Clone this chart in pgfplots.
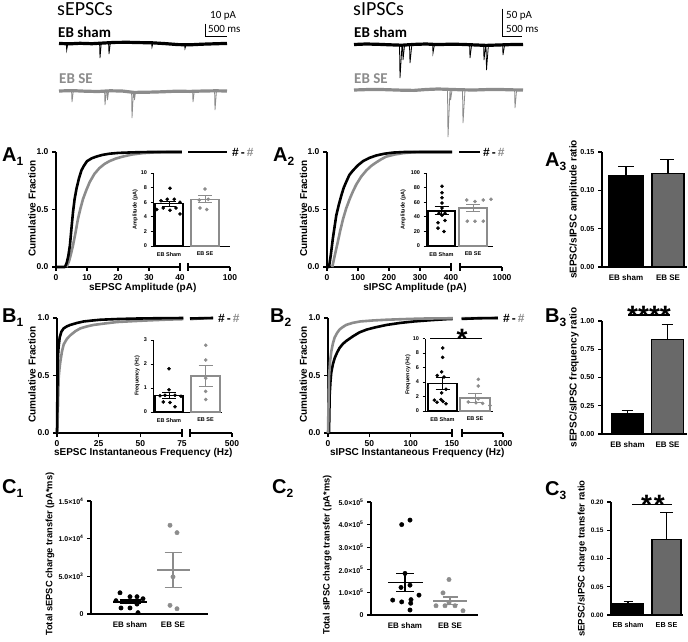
\documentclass[border=0pt]{standalone}
\usepackage{pgfplots}
\pgfplotsset{compat=1.18}
\usepackage{fontspec}
\setmainfont{Liberation Sans}
\newfontfamily\calib{Carlito}
\definecolor{segray}{RGB}{140,140,140}
\definecolor{bargray}{RGB}{105,105,105}
\newcommand{\fs}[1]{\fontsize{#1}{#1}\selectfont}
\newcommand{\plab}[2]{{\fs{20}\bfseries #1}{\fs{12}\bfseries\raisebox{-4pt}{#2}}}
\newcommand{\hh}{{\fs{12}\bfseries\#\,-\,\textcolor{segray}{\#}}}

\pgfplotsset{
  base/.style={scale only axis, clip=false, anchor=south west,
    axis lines*=left, axis line style={line width=1.1pt},
    every tick/.style={line width=1.1pt, black}, major tick length=4pt, tick align=outside,
    /pgf/number format/assume math mode=true,
    tick label style={font=\fs{8.5}\bfseries},
    label style={font=\fs{10}\bfseries}, unbounded coords=jump},
  cum/.style={base, height=115pt, ymin=0, ymax=1, ytick={0,0.5,1}, yticklabels={0.0,0.5,1.0},
    ylabel={Cumulative Fraction}, ylabel style={at={(axis description cs:-0.194,0.51)}, anchor=center}},
  seg/.style={base, height=115pt, ymin=0, ymax=1, axis y line=none, axis x line*=bottom},
  brk/.style={line width=1.1pt, black},
  inset/.style={base, ymin=0, axis line style={line width=0.8pt},
    every tick/.style={line width=0.8pt, black}, major tick length=2.5pt,
    tick label style={font=\fs{5.5}\bfseries}, label style={font=\fs{5.5}\bfseries},
    xtick style={draw=none}},
  ratio/.style={base, xtick style={draw=none}, tick label style={font=\fs{7.2}\bfseries},
    xticklabel style={font=\fs{8}\bfseries}, label style={font=\fs{10}\bfseries}},
  scat/.style={base, xtick style={draw=none}, scaled y ticks=false, tick label style={font=\fs{7}\bfseries},
    xticklabel style={font=\fs{8}\bfseries}, label style={font=\fs{9.3}\bfseries}},
  curve/.style={no marks, line width=2.6pt, line join=round},
  dot/.style={only marks, mark=*, mark size=1.6pt},
  sem/.style={line width=0.9pt},
}

\begin{document}
\begin{tikzpicture}
\useasboundingbox (0,-641pt) rectangle (688pt,0);

% ---------- traces, scale bars and panel letters (pixel frame) ----------
\begin{axis}[at={(0pt,-641pt)}, anchor=south west, scale only axis, width=688pt, height=641pt,
  xmin=0, xmax=688, ymin=-641, ymax=0, hide axis, clip=false, unbounded coords=jump]
% sEPSC sham
\addplot[black, line width=3.2pt, line join=round] coordinates {(59,-43.5) (70,-43.8) (80,-43.3) (92,-43.7) (104,-43) (115,-42.4) (128,-42.3) (140,-42.6) (152,-42.8) (165,-43.6) (178,-44.6) (190,-44.8) (202,-44.2) (214,-43.8) (227,-43.4)};
\addplot[black, line width=0.8pt] coordinates {(66.3,-44) (66.7,-50) (67.8,-44) (nan,nan) (99.6,-44) (100,-58) (101.2,-44) (nan,nan) (108.6,-44) (109,-54) (110.2,-44) (nan,nan) (151.6,-43) (152,-47) (153,-43) (nan,nan) (184.6,-45) (185,-48.5) (186,-45)};
% sEPSC SE
\addplot[segray, line width=3.2pt, line join=round] coordinates {(59,-91) (72,-90.6) (85,-91.2) (98,-91.5) (110,-90.8) (122,-91) (134,-92.4) (148,-92.2) (162,-91.8) (176,-91.2) (190,-91.4) (204,-91) (216,-90.8) (227,-91)};
\addplot[segray, line width=0.8pt] coordinates {(71.6,-92) (72,-102) (73.2,-92) (nan,nan) (104.6,-92) (105,-105) (106.2,-92) (nan,nan) (107.1,-92) (107.5,-100) (108.5,-92) (nan,nan) (131.6,-92) (132,-118) (133.4,-92) (nan,nan) (134.1,-92) (134.5,-100) (135.5,-92) (nan,nan) (192.6,-92) (193,-102) (194.2,-92) (nan,nan) (214.6,-92) (215,-110) (216.4,-92)};
% sIPSC sham
\addplot[black, line width=3.2pt, line join=round] coordinates {(354,-44.5) (366,-44) (378,-44.3) (390,-44.8) (402,-45.2) (414,-44.4) (426,-44) (438,-44.6) (450,-44.2) (462,-44.4) (474,-44.9) (486,-45.4) (498,-45) (510,-44.6) (523,-44.5)};
\addplot[black, line width=0.8pt] coordinates {(399.5,-45) (400,-78) (402,-45) (nan,nan) (402.6,-45) (403,-60) (404.6,-45) (nan,nan) (409.5,-45) (410,-63) (411.8,-45) (nan,nan) (432.6,-45) (433,-53) (434.4,-45) (nan,nan) (469.6,-45) (470,-58) (471.6,-45) (nan,nan) (483.6,-45) (484,-60) (485.6,-45) (nan,nan) (486,-45) (486.5,-70) (488.4,-45) (nan,nan) (502.6,-45) (503,-55) (504.6,-45)};
% sIPSC SE
\addplot[segray, line width=3.2pt, line join=round] coordinates {(354,-90) (366,-89.6) (378,-89.4) (390,-89.8) (402,-90.2) (414,-90.4) (426,-89.5) (438,-89) (450,-89.4) (462,-89.8) (474,-90) (486,-89.6) (498,-89.4) (510,-89.8) (523,-90)};
\addplot[segray, line width=0.8pt] coordinates {(447.5,-90) (448,-137) (450,-90) (nan,nan) (450.2,-90) (450.6,-100) (452,-90) (nan,nan) (462.5,-90) (463,-123) (465,-90) (nan,nan) (514.6,-90) (515,-108) (516.6,-90)};
% scale bars
\addplot[black, line width=0.7pt] coordinates {(205,-23.5) (205,-36) (227,-36)};
\addplot[black, line width=0.7pt] coordinates {(502,-8.5) (502,-36.7) (522,-36.7)};

\node[anchor=base west, inner sep=0, font=\calib\fs{20}] at (axis cs:57,-15) {sEPSCs};
\node[anchor=base west, inner sep=0, font=\calib\fs{20}] at (axis cs:353,-15) {sIPSCs};
\node[anchor=base west, inner sep=0, font=\calib\bfseries\fs{15}] at (axis cs:58,-37) {EB sham};
\node[anchor=base west, inner sep=0, font=\calib\bfseries\fs{15}] at (axis cs:354,-37) {EB sham};
\node[anchor=base west, inner sep=0, font=\calib\bfseries\fs{15}, text=segray] at (axis cs:59,-83) {EB SE};
\node[anchor=base west, inner sep=0, font=\calib\bfseries\fs{15}, text=segray] at (axis cs:354,-83) {EB SE};
\node[anchor=base west, inner sep=0, font=\calib\fs{11}] at (axis cs:210,-18) {10 pA};
\node[anchor=base west, inner sep=0, font=\calib\fs{11}] at (axis cs:208,-32) {500 ms};
\node[anchor=base west, inner sep=0, font=\calib\fs{11}] at (axis cs:506,-18) {50 pA};
\node[anchor=base west, inner sep=0, font=\calib\fs{11}] at (axis cs:506,-32) {500 ms};

\node[anchor=base west, inner sep=0] at (axis cs:2,-161) {\plab{A}{1}};
\node[anchor=base west, inner sep=0] at (axis cs:273,-161) {\plab{A}{2}};
\node[anchor=base west, inner sep=0] at (axis cs:545,-166) {\plab{A}{3}};
\node[anchor=base west, inner sep=0] at (axis cs:2,-322) {\plab{B}{1}};
\node[anchor=base west, inner sep=0] at (axis cs:270,-322) {\plab{B}{2}};
\node[anchor=base west, inner sep=0] at (axis cs:545,-322) {\plab{B}{3}};
\node[anchor=base west, inner sep=0] at (axis cs:2,-493) {\plab{C}{1}};
\node[anchor=base west, inner sep=0] at (axis cs:272,-493) {\plab{C}{2}};
\node[anchor=base west, inner sep=0] at (axis cs:545,-495) {\plab{C}{3}};
\end{axis}

% ---------- A1 ----------
\begin{axis}[cum, at={(56pt,-267pt)}, width=124pt, xmin=0, xmax=40,
  xtick={0,10,20,30,40}, xticklabels={0,10,20,30,40},
  xlabel={sEPSC Amplitude (pA)}, xlabel style={at={(axis description cs:0.70,-0.18)}, anchor=center}]
\addplot[curve, segray] coordinates {(3.4,0) (4.2,0.05) (4.8,0.11) (5.5,0.19) (6.3,0.30) (7.1,0.42) (7.9,0.51) (8.7,0.59) (9.8,0.67) (10.9,0.74) (12.4,0.81) (14,0.86) (15.6,0.895) (17.2,0.92) (19.3,0.943) (21.5,0.96) (24.5,0.978) (27.9,0.99) (32,0.997) (36,1) (40.6,1)};
\addplot[curve, black] coordinates {(0,0) (2.9,0) (3.5,0.04) (4.0,0.10) (4.5,0.19) (5.0,0.34) (5.5,0.48) (6.0,0.59) (6.6,0.68) (7.4,0.77) (8.2,0.84) (9.0,0.88) (10,0.92) (11.5,0.945) (13,0.96) (15,0.975) (17.2,0.985) (20,0.992) (24.7,0.997) (30,1) (40.6,1)};
\addplot[brk] coordinates {(40,0.035) (40,-0.035)};
\end{axis}
\begin{axis}[seg, at={(188pt,-267pt)}, width=42pt, xmin=40, xmax=100, xtick={100}, xticklabels={100}]
\addplot[curve, black] coordinates {(40,1) (95.7,1)};
\addplot[brk] coordinates {(40,0.035) (40,-0.035)};
\node[anchor=west, inner sep=0, xshift=5pt] at (axis cs:95.7,1) {\hh};
\end{axis}
\begin{axis}[inset, at={(153pt,-246pt)}, width=77pt, height=73pt, xmin=0, xmax=77, ymax=10,
  ytick={0,2,4,6,8,10}, yticklabels={0,2,4,6,8,10}, xtick={16,52}, xticklabels={EB Sham,EB SE},
  ylabel={Amplitude (pA)}, ylabel style={at={(axis description cs:-0.23,0.5)}, anchor=center}]
\addplot[ybar, bar width=28, fill=white, draw=black, line width=1.1pt] coordinates {(16,5.8)};
\addplot[ybar, bar width=28, fill=white, draw=segray, line width=1.1pt] coordinates {(52,6.4)};
\addplot[dot, black] coordinates {(17,7.9) (8,6.2) (14.3,6.4) (21.3,6.4) (27,6.0) (3.7,5.0) (10.3,5.2) (17,4.9) (23,5.2) (27,4.4)};
\addplot[dot, segray] coordinates {(52,7.8) (46.3,6.3) (55.3,6.4) (47,5.2) (53.7,5.0)};
\addplot[sem, black] coordinates {(16,5.45) (16,6.15) (nan,nan) (9,6.15) (23,6.15) (nan,nan) (9,5.45) (23,5.45)};
\addplot[sem, segray] coordinates {(52,5.9) (52,6.9) (nan,nan) (45,6.9) (59,6.9) (nan,nan) (45,5.9) (59,5.9)};
\end{axis}

% ---------- A2 ----------
\begin{axis}[cum, at={(327pt,-267pt)}, width=124pt, xmin=0, xmax=400,
  xtick={0,100,200,300,400}, xticklabels={0,100,200,300,400},
  xlabel={sIPSC Amplitude (pA)}, xlabel style={at={(axis description cs:0.71,-0.18)}, anchor=center},
  ylabel style={at={(axis description cs:-0.19,0.51)}}]
\addplot[curve, segray] coordinates {(17,0) (25,0.1) (35,0.22) (43,0.32) (52,0.42) (62,0.51) (73,0.59) (84,0.66) (95,0.72) (110,0.785) (127,0.84) (143,0.88) (159,0.91) (175,0.937) (191,0.96) (218,0.978) (245,0.99) (275,0.997) (300,1) (404,1)};
\addplot[curve, black] coordinates {(0,0) (6.5,0) (12,0.1) (19,0.25) (25,0.36) (30,0.45) (38,0.54) (46,0.62) (54,0.69) (62,0.74) (72,0.8) (84,0.84) (100,0.885) (116,0.92) (136,0.948) (159,0.97) (185,0.985) (213,0.995) (250,1) (404,1)};
\addplot[brk] coordinates {(400,0.035) (400,-0.035)};
\end{axis}
\begin{axis}[seg, at={(460pt,-267pt)}, width=42pt, xmin=400, xmax=1000, xtick={1000}, xticklabels={1000}]
\addplot[curve, black] coordinates {(390,1) (686,1)};
\addplot[brk] coordinates {(400,0.035) (400,-0.035)};
\node[anchor=west, inner sep=0, xshift=3pt] at (axis cs:686,1) {\hh};
\end{axis}
\begin{axis}[inset, at={(426pt,-246pt)}, width=67pt, height=73pt, xmin=0, xmax=67, ymax=100,
  ytick={0,20,40,60,80,100}, yticklabels={0,20,40,60,80,100}, xtick={15.5,47}, xticklabels={EB Sham,EB SE},
  ylabel={Amplitude (pA)}, ylabel style={at={(axis description cs:-0.34,0.5)}, anchor=center}]
\addplot[ybar, bar width=27, fill=white, draw=black, line width=1.1pt] coordinates {(15.5,48)};
\addplot[ybar, bar width=28, fill=white, draw=segray, line width=1.1pt] coordinates {(47,52)};
\addplot[dot, black] coordinates {(16,82) (16,73) (16,66) (16,59) (16,52) (13,45) (19,45) (16,42) (19,35) (12,32) (12,24.5) (18,20)};
\addplot[dot, segray] coordinates {(40.7,63) (49,61) (57.3,63) (65,64) (41.3,34) (49,34) (57.3,34)};
\addplot[sem, black] coordinates {(15.5,43) (15.5,54) (nan,nan) (8.5,54) (22.5,54) (nan,nan) (8.5,43) (22.5,43)};
\addplot[sem, segray] coordinates {(47,47) (47,57) (nan,nan) (40,57) (54,57) (nan,nan) (40,47) (54,47)};
\end{axis}

% ---------- A3 ----------
\begin{axis}[ratio, at={(602pt,-267pt)}, width=85pt, height=115pt, xmin=0, xmax=85, ymin=0, ymax=0.15,
  ytick={0,0.05,0.1,0.15}, yticklabels={0.00,0.05,0.10,0.15}, xtick={24,66}, xticklabels={EB sham,EB SE},
  ylabel={sEPSC/sIPSC amplitude ratio}, ylabel style={at={(axis description cs:-0.33,0.5)}, anchor=center}]
\addplot[ybar, bar width=34, fill=black, draw=black, line width=1.2pt] coordinates {(24,0.119)};
\addplot[ybar, bar width=32, fill=bargray, draw=black, line width=1.2pt] coordinates {(66,0.122)};
\addplot[black, line width=1.2pt] coordinates {(24,0.119) (24,0.131) (nan,nan) (16,0.131) (32,0.131)};
\addplot[black, line width=1.2pt] coordinates {(66,0.122) (66,0.140) (nan,nan) (58,0.140) (72,0.140)};
\end{axis}

% ---------- B1 ----------
\begin{axis}[cum, at={(57pt,-433pt)}, width=125pt, xmin=0, xmax=75,
  xtick={0,25,50,75}, xticklabels={0,25,50,75},
  xlabel={sEPSC Instantaneous Frequency (Hz)}, xlabel style={at={(axis description cs:0.69,-0.17)}, anchor=center},
  ylabel style={at={(axis description cs:-0.2,0.51)}}]
\addplot[curve, segray] coordinates {(0,0) (0.3,0.05) (0.6,0.25) (1,0.48) (1.5,0.56) (2,0.62) (3,0.71) (4,0.77) (6,0.82) (8,0.85) (11,0.885) (14,0.91) (18,0.927) (22,0.94) (29,0.953) (36,0.965) (46,0.973) (56,0.98) (66,0.986) (75.8,0.99)};
\addplot[curve, black] coordinates {(0,0) (0.2,0.3) (0.4,0.62) (0.9,0.74) (1.6,0.83) (2.6,0.88) (4,0.91) (6,0.928) (8,0.94) (12,0.957) (16,0.97) (21,0.978) (26,0.985) (36,0.991) (46,0.995) (60,0.998) (75.8,1)};
\addplot[brk] coordinates {(75,0.035) (75,-0.035)};
\end{axis}
\begin{axis}[seg, at={(190pt,-433pt)}, width=42pt, xmin=75, xmax=500, xtick={500}, xticklabels={500}]
\addplot[curve, segray] coordinates {(75,0.99) (200,0.997) (308,1)};
\addplot[curve, black] coordinates {(75,0.996) (308,1)};
\addplot[brk] coordinates {(75,0.035) (75,-0.035)};
\node[anchor=west, inner sep=0, xshift=5pt] at (axis cs:308,1) {\hh};
\end{axis}
\begin{axis}[inset, at={(153pt,-412pt)}, width=69pt, height=72pt, xmin=0, xmax=69, ymax=3,
  ytick={0,1,2,3}, yticklabels={0,1,2,3}, xtick={16,52.5}, xticklabels={EB Sham,EB SE},
  ylabel={Frequency (Hz)}, ylabel style={at={(axis description cs:-0.23,0.5)}, anchor=center}]
\addplot[ybar, bar width=28, fill=white, draw=black, line width=1.1pt] coordinates {(16,0.68)};
\addplot[ybar, bar width=29, fill=white, draw=segray, line width=1.1pt] coordinates {(52.5,1.5)};
\addplot[dot, black] coordinates {(16,1.8) (16,0.93) (7,0.68) (12,0.7) (22,0.7) (28,0.66) (10.3,0.42) (17,0.4) (22,0.22)};
\addplot[dot, segray] coordinates {(52.7,2.78) (52.7,2.17) (52.7,1.41) (52.7,0.86) (52.7,0.52)};
\addplot[sem, black] coordinates {(16,0.55) (16,0.83) (nan,nan) (9,0.83) (23,0.83) (nan,nan) (9,0.55) (23,0.55)};
\addplot[sem, segray] coordinates {(52.5,1.08) (52.5,1.93) (nan,nan) (45.5,1.93) (59.5,1.93) (nan,nan) (45.5,1.08) (59.5,1.08)};
\end{axis}

% ---------- B2 ----------
\begin{axis}[cum, at={(328pt,-433pt)}, width=124pt, xmin=0, xmax=150,
  xtick={0,50,100,150}, xticklabels={0,50,100,150},
  xlabel={sIPSC Instantaneous Frequency (Hz)}, xlabel style={at={(axis description cs:0.72,-0.17)}, anchor=center},
  ylabel style={at={(axis description cs:-0.2,0.51)}}]
\addplot[curve, black] coordinates {(0,0) (1.2,0) (1.6,0.15) (2,0.33) (3,0.45) (4,0.53) (6,0.6) (8,0.65) (11,0.70) (14,0.74) (18,0.775) (22,0.8) (30,0.84) (38,0.875) (47,0.90) (58,0.92) (71,0.94) (87,0.957) (104,0.97) (124,0.981) (144,0.99) (151,0.992)};
\addplot[curve, segray] coordinates {(0,0) (0.5,0.2) (1.2,0.48) (2.5,0.62) (4,0.71) (6,0.78) (8,0.83) (11,0.87) (14,0.90) (18,0.922) (22,0.94) (30,0.958) (39,0.97) (55,0.979) (71,0.985) (90,0.99) (112,0.995) (151,0.998)};
\addplot[brk] coordinates {(150,0.035) (150,-0.035)};
\end{axis}
\begin{axis}[seg, at={(462pt,-433pt)}, width=41pt, xmin=150, xmax=1000, xtick={1000}, xticklabels={1000}]
\addplot[curve, segray] coordinates {(140,0.998) (896,1)};
\addplot[curve, black] coordinates {(140,0.992) (500,0.998) (896,1)};
\addplot[brk] coordinates {(150,0.035) (150,-0.035)};
\node[anchor=west, inner sep=0, xshift=5pt] at (axis cs:896,1) {\hh};
\end{axis}
\begin{axis}[inset, at={(425pt,-411pt)}, width=68pt, height=72.5pt, xmin=0, xmax=68, ymax=10,
  ytick={0,2,4,6,8,10}, yticklabels={0,2,4,6,8,10}, xtick={17.5,50}, xticklabels={EB Sham,EB SE},
  ylabel={Frequency (Hz)}, ylabel style={at={(axis description cs:-0.25,0.5)}, anchor=center}]
\addplot[ybar, bar width=29, fill=white, draw=black, line width=1.1pt] coordinates {(17.5,3.8)};
\addplot[ybar, bar width=30, fill=white, draw=segray, line width=1.1pt] coordinates {(50,1.8)};
\addplot[dot, black] coordinates {(17.7,8.7) (17.7,7.4) (16.7,5.4) (12.3,4.9) (19,4.7) (21,3.0) (16.7,2.5) (9.3,1.5) (16,1.6) (18,1.3) (21,1.0) (12,1.2)};
\addplot[dot, segray] coordinates {(53.3,4.37) (53.3,3.45) (53.3,1.7) (43.3,1.25) (51,1.15) (57.7,1.05) (65,0.75)};
\addplot[sem, black] coordinates {(17.5,3.0) (17.5,4.6) (nan,nan) (10.5,4.6) (24.5,4.6) (nan,nan) (10.5,3.0) (24.5,3.0)};
\addplot[sem, segray] coordinates {(50,1.2) (50,2.44) (nan,nan) (43,2.44) (57,2.44) (nan,nan) (43,1.2) (57,1.2)};
\addplot[black, line width=1.5pt] coordinates {(5,10) (56.7,10)};
\node[anchor=base, inner sep=0, yshift=-10pt, font=\fs{28}\bfseries] at (axis cs:37,10) {*};
\end{axis}

% ---------- B3 ----------
\begin{axis}[ratio, at={(602pt,-434pt)}, width=85pt, height=113pt, xmin=0, xmax=85, ymin=0, ymax=1,
  ytick={0,0.25,0.5,0.75,1}, yticklabels={0.00,0.25,0.50,0.75,1.00}, xtick={25.5,65.5}, xticklabels={EB sham,EB SE},
  ylabel={sEPSC/sIPSC frequency ratio}, ylabel style={at={(axis description cs:-0.33,0.5)}, anchor=center}]
\addplot[ybar, bar width=32, fill=black, draw=black, line width=1.2pt] coordinates {(25.5,0.18)};
\addplot[ybar, bar width=32, fill=bargray, draw=black, line width=1.2pt] coordinates {(65.5,0.835)};
\addplot[black, line width=1.2pt] coordinates {(25.5,0.18) (25.5,0.21) (nan,nan) (19.7,0.21) (31.3,0.21)};
\addplot[black, line width=1.2pt] coordinates {(65.5,0.835) (65.5,0.97) (nan,nan) (59.7,0.97) (71.3,0.97)};
\addplot[black, line width=1.5pt] coordinates {(26,1.053) (68,1.053)};
\node[anchor=base, inner sep=0, yshift=-10pt, font=\fs{28}\bfseries] at (axis cs:47,1.053) {****};
\end{axis}

% ---------- C1 ----------
\begin{axis}[scat, at={(91pt,-614pt)}, width=117pt, height=113pt, xmin=0, xmax=117, ymin=0, ymax=15000,
  ytick={0,5000,10000,15000}, yticklabels={0,5.0×10\textsuperscript{3},1.0×10\textsuperscript{4},1.5×10\textsuperscript{4}},
  xtick={39,82}, xticklabels={EB sham,EB SE},
  ylabel={Total sEPSC charge transfer (pA*ms)}, ylabel style={at={(axis description cs:-0.35,0.53)}, anchor=center}]
\addplot[dot, mark size=2.2pt, black] coordinates {(29,2820) (25,1770) (35,1630) (39,2300) (46,2300) (52,2030) (30,800) (39,800) (46,1320) (47,180)};
\addplot[dot, mark size=2.2pt, segray] coordinates {(79,11780) (86,10800) (82,4940) (79,1150) (86,700)};
\addplot[black, line width=1.3pt] coordinates {(22,1600) (56,1600) (nan,nan) (39,1350) (39,1850) (nan,nan) (28.5,1850) (49.5,1850) (nan,nan) (28.5,1350) (49.5,1350)};
\addplot[segray, line width=1.3pt] coordinates {(66,5850) (99,5850) (nan,nan) (82,3550) (82,8200) (nan,nan) (73.5,8200) (90.5,8200) (nan,nan) (73.5,3550) (90.5,3550)};
\end{axis}

% ---------- C2 ----------
\begin{axis}[scat, at={(371pt,-615pt)}, width=107pt, height=113pt, xmin=0, xmax=107, ymin=0, ymax=500000,
  ytick={0,100000,200000,300000,400000,500000},
  yticklabels={0,1.0×10\textsuperscript{5},2.0×10\textsuperscript{5},3.0×10\textsuperscript{5},4.0×10\textsuperscript{5},5.0×10\textsuperscript{5}},
  xtick={34,79}, xticklabels={EB sham,EB SE},
  ylabel={Total sIPSC charge transfer (pA*ms)}, ylabel style={at={(axis description cs:-0.41,0.53)}, anchor=center}]
\addplot[dot, mark size=2.2pt, black] coordinates {(30.7,400000) (39,420000) (34,184000) (30,122000) (39,132000) (21.7,66000) (30.7,58000) (39.7,52000) (40,68000) (48,88000) (39,22000)};
\addplot[dot, mark size=2.2pt, segray] coordinates {(78,157000) (72,98000) (78,54000) (65,41000) (74,41000) (84,41000) (92,19000)};
\addplot[black, line width=1.3pt] coordinates {(17,143000) (52,143000) (nan,nan) (34,103000) (34,183000) (nan,nan) (25,183000) (43,183000) (nan,nan) (25,103000) (43,103000)};
\addplot[segray, line width=1.3pt] coordinates {(62,62000) (96,62000) (nan,nan) (79,45000) (79,80000) (nan,nan) (71.5,80000) (86.5,80000) (nan,nan) (71.5,45000) (86.5,45000)};
\end{axis}

% ---------- C3 ----------
\begin{axis}[ratio, at={(611pt,-615pt)}, width=72pt, height=113pt, xmin=0, xmax=72, ymin=0, ymax=0.2,
  ytick={0,0.05,0.1,0.15,0.2}, yticklabels={0.00,0.05,0.10,0.15,0.20}, xtick={17,55.5}, xticklabels={EB sham,EB SE},
  tick label style={font=\fs{6.5}\bfseries}, xticklabel style={font=\fs{7.2}\bfseries}, label style={font=\fs{9.5}\bfseries},
  ylabel={sEPSC/sIPSC charge transfer ratio}, ylabel style={at={(axis description cs:-0.4,0.5)}, anchor=center}]
\addplot[ybar, bar width=30, fill=black, draw=black, line width=1.2pt] coordinates {(17,0.021)};
\addplot[ybar, bar width=29, fill=bargray, draw=black, line width=1.2pt] coordinates {(55.5,0.134)};
\addplot[black, line width=1.2pt] coordinates {(17,0.021) (17,0.024) (nan,nan) (12.5,0.024) (21.5,0.024)};
\addplot[black, line width=1.2pt] coordinates {(55.5,0.134) (55.5,0.182) (nan,nan) (49,0.182) (62,0.182)};
\addplot[black, line width=1.5pt] coordinates {(21,0.196) (61,0.196)};
\node[anchor=base, inner sep=0, yshift=-10pt, font=\fs{28}\bfseries] at (axis cs:42,0.196) {*\hspace{2pt}*};
\end{axis}
\end{tikzpicture}
\end{document}
